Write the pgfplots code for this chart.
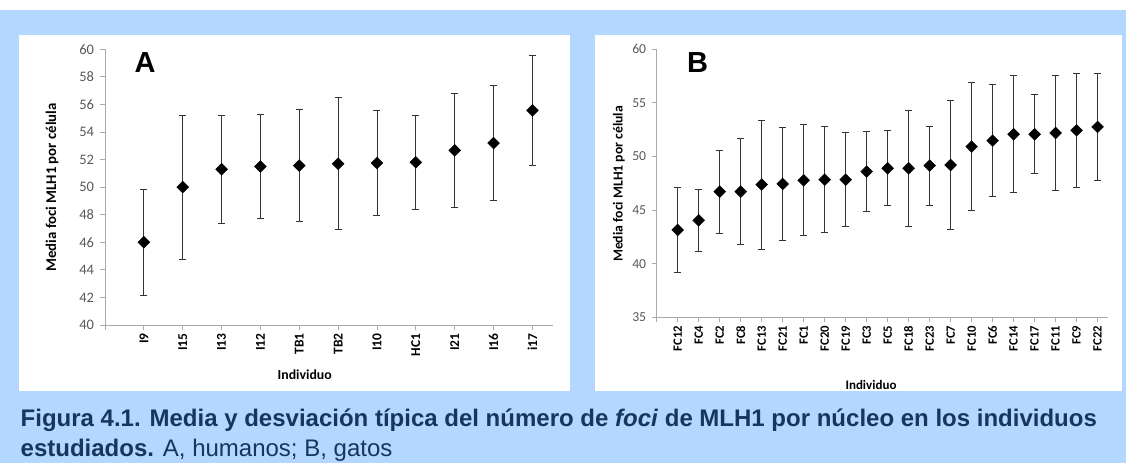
\documentclass[border=0pt]{standalone}
\usepackage{fontspec}
\usepackage{pgfplots}
\usepackage{pgfplotstable}
\pgfplotsset{compat=1.18}
\newfontfamily\calibri{Carlito}
\newfontfamily\arial{Liberation Sans}
\definecolor{bgblue}{RGB}{179,215,254}
\definecolor{capnavy}{RGB}{23,54,93}
\definecolor{axisgray}{RGB}{170,170,170}
\definecolor{tickgray}{RGB}{89,89,89}

\pgfplotstableread{
x y e
0 46.00 3.83
1 50.00 5.24
2 51.30 3.93
3 51.50 3.75
4 51.56 4.05
5 51.70 4.80
6 51.75 3.80
7 51.80 3.44
8 52.67 4.12
9 53.20 4.15
10 55.57 4.02
}\dataA

\pgfplotstableread{
x y e
0 43.15 4.00
1 44.05 2.92
2 46.72 3.87
3 46.72 4.93
4 47.38 6.00
5 47.44 5.25
6 47.78 5.17
7 47.84 4.95
8 47.84 4.40
9 48.59 3.72
10 48.90 3.50
11 48.90 5.42
12 49.15 3.69
13 49.21 6.00
14 50.92 5.97
15 51.48 5.20
16 52.07 5.46
17 52.07 3.69
18 52.20 5.35
19 52.44 5.35
20 52.76 5.03
}\dataB

\pgfplotsset{
  myaxis/.style={
    scale only axis,
    anchor=south west,
    axis x line*=bottom, axis y line*=left,
    axis line style={draw=axisgray, line width=0.8pt},
    tick style={draw=axisgray, line width=0.8pt},
    tick align=outside, major tick length=5pt,
    /pgf/number format/assume math mode=true,
    y tick label style={text=tickgray},
    x tick label style={rotate=90, anchor=east, text=black},
  },
  myplot/.style={
    only marks, black,
    mark=square*, mark size=4.2pt, mark options={rotate=45, fill=black, draw=black},
    error bars/.cd, y dir=both, y explicit,
    error bar style={black!80, line width=0.8pt},
    error mark options={black!80, mark size=3.5pt, line width=0.8pt, rotate=90},
  },
}

\begin{document}
\begin{tikzpicture}[x=1pt,y=1pt]
\path[use as bounding box] (0,0) rectangle (1126,463);
\fill[white] (0,0) rectangle (1126,463);
\fill[bgblue] (0,0) rectangle (1126,453);
\fill[white] (18.7,72.3) rectangle (570,428);
\fill[white] (595,72.3) rectangle (1121.7,428);

\begin{axis}[myaxis,
  at={(105pt,138pt)}, width=448pt, height=275.7pt,
  xmin=-1, xmax=10.53, ymin=40, ymax=60,
  ytick={40,42,...,60},
  xtick={-1,0,...,10},
  xticklabels={,I9,I15,I13,I12,TB1,TB2,I10,HC1,I21,I16,i17},
  y tick label style={font=\calibri\fontsize{14.5}{14.5}\selectfont, xshift=-2.5pt},
  x tick label style={font=\calibri\bfseries\fontsize{13.5}{13.5}\selectfont},
]
\addplot[myplot] table[x=x, y=y, y error=e] {\dataA};
\end{axis}

\begin{axis}[myaxis,
  at={(656.7pt,145.7pt)}, width=451.6pt, height=268pt,
  xmin=-1, xmax=20.51, ymin=35, ymax=60,
  ytick={35,40,...,60},
  xtick={-1,0,...,20},
  xticklabels={,FC12,FC4,FC2,FC8,FC13,FC21,FC1,FC20,FC19,FC3,FC5,FC18,FC23,FC7,FC10,FC6,FC14,FC17,FC11,FC9,FC22},
  y tick label style={font=\calibri\fontsize{13.7}{13.7}\selectfont, xshift=-2pt},
  x tick label style={font=\calibri\bfseries\fontsize{12.7}{12.7}\selectfont},
]
\addplot[myplot] table[x=x, y=y, y error=e] {\dataB};
\end{axis}

% axis titles
\node[font=\calibri\bfseries\fontsize{13.8}{13.8}\selectfont, anchor=base] at (304.7,83) {Individuo};
\node[font=\calibri\bfseries\fontsize{13}{13}\selectfont, anchor=base] at (871,73.7) {Individuo};
\node[font=\calibri\bfseries\fontsize{14.8}{14.8}\selectfont, rotate=90] at (52,275.5) {Media foci MLH1 por célula};
\node[font=\calibri\bfseries\fontsize{13.7}{13.7}\selectfont, rotate=90] at (619,279) {Media foci MLH1 por célula};

% panel letters
\node[font=\arial\bfseries\fontsize{29}{29}\selectfont, anchor=base, inner sep=0pt] at (145,390.7) {A};
\node[font=\arial\bfseries\fontsize{29}{29}\selectfont, anchor=base, inner sep=0pt] at (697.5,390.7) {B};

% caption
\node[font=\arial\fontsize{24}{24}\selectfont, text=capnavy, anchor=base west, inner sep=0pt] at (20.5,36.3)
  {\bfseries Figura 4.1. Media y desviación típica del número de \textit{foci} de MLH1 por núcleo en los individuos};
\node[font=\arial\fontsize{24}{24}\selectfont, text=capnavy, anchor=base west, inner sep=0pt] at (20.5,7)
  {\textbf{estudiados.} A, humanos; B, gatos};
\end{tikzpicture}
\end{document}
